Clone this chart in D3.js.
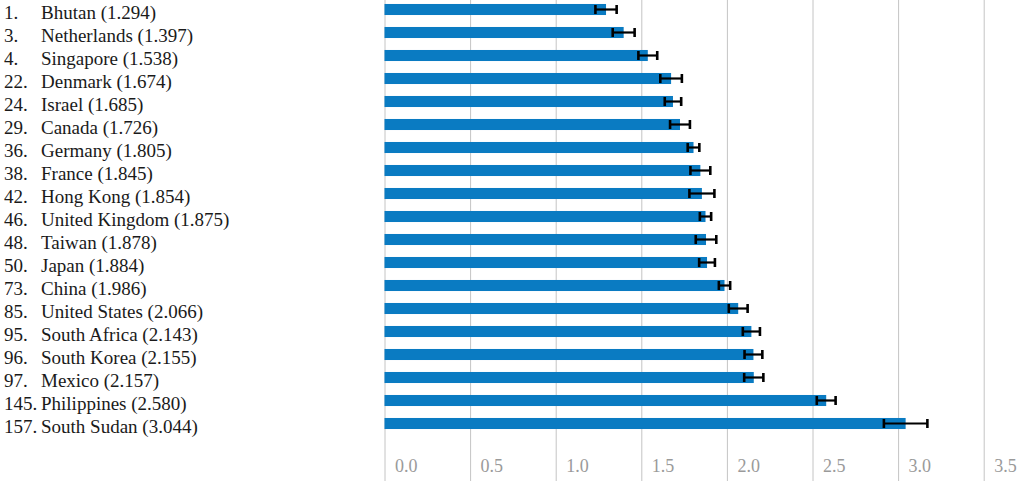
<!DOCTYPE html>
<html>
<head>
<meta charset="utf-8">
<script src="https://cdn.jsdelivr.net/npm/d3@7"></script>
<style>
  html, body { margin: 0; padding: 0; background: #fff; }
  svg { display: block; }
  text { font-family: "Liberation Serif", "DejaVu Serif", serif; }
</style>
</head>
<body>
<svg id="chart" width="1024" height="483"></svg>
<script>
const ranks = [1, 3, 4, 22, 24, 29, 36, 38, 42, 46, 48, 50, 73, 85, 95, 96, 97, 145, 157];
const countries = ["Bhutan", "Netherlands", "Singapore", "Denmark", "Israel", "Canada", "Germany",
  "France", "Hong Kong", "United Kingdom", "Taiwan", "Japan", "China", "United States",
  "South Africa", "South Korea", "Mexico", "Philippines", "South Sudan"];
const scores = [1.294, 1.397, 1.538, 1.674, 1.685, 1.726, 1.805, 1.845, 1.854, 1.875, 1.878,
  1.884, 1.986, 2.066, 2.143, 2.155, 2.157, 2.580, 3.044];
// half-width of error bars
const errors = [0.062, 0.064, 0.055, 0.063, 0.048, 0.058, 0.034, 0.058, 0.073, 0.033, 0.060,
  0.046, 0.033, 0.055, 0.050, 0.052, 0.056, 0.055, 0.127];
const tickValues = [0, 0.5, 1.0, 1.5, 2.0, 2.5, 3.0, 3.5];

const svg = d3.select("#chart");

const x = d3.scaleLinear().domain([0, 3.5]).range([384.5, 983.7]);
const y = d3.scaleBand().domain(countries).range([-2, 435]).paddingInner(0.52).paddingOuter(0.26);

// grid + tick labels via axis
const axis = d3.axisBottom(x)
  .tickValues(tickValues)
  .tickFormat(d3.format(".1f"))
  .tickSizeInner(-481)
  .tickSizeOuter(0);

const gAxis = svg.append("g").attr("transform", `translate(0,481)`).call(axis)
  .attr("font-family", "Liberation Serif, serif")
  .attr("font-size", 18);
gAxis.select(".domain").remove();
gAxis.selectAll(".tick line").attr("stroke", "#c4c4c4").attr("stroke-width", 1);
gAxis.selectAll(".tick text")
  .attr("x", 10).attr("y", -9).attr("dy", null)
  .attr("text-anchor", "start")
  .attr("fill", "#9a9a9a")
  .style("font-size", "18px")
  .style("font-family", "'Liberation Serif', serif");

const data = countries.map((c, i) => ({ c, rank: ranks[i], score: scores[i], err: errors[i] }));

// bars
svg.append("g").selectAll("rect").data(data).join("rect")
  .attr("x", x(0))
  .attr("y", d => y(d.c))
  .attr("width", d => x(d.score) - x(0))
  .attr("height", y.bandwidth())
  .attr("fill", "#0a7bc2");

// error bars
const eg = svg.append("g").attr("stroke", "#000").attr("stroke-width", 2.2);
data.forEach(d => {
  const cy = y(d.c) + y.bandwidth() / 2;
  const x0 = x(d.score - d.err), x1 = x(d.score + d.err);
  eg.append("line").attr("x1", x0).attr("x2", x1).attr("y1", cy).attr("y2", cy);
  eg.append("line").attr("x1", x0).attr("x2", x0).attr("y1", cy - 4.5).attr("y2", cy + 4.5).attr("stroke-width", 2.6);
  eg.append("line").attr("x1", x1).attr("x2", x1).attr("y1", cy - 4.5).attr("y2", cy + 4.5).attr("stroke-width", 2.6);
});

// labels
const lg = svg.append("g").attr("fill", "#1a1a1a").style("font-size", "19px");
lg.selectAll("text.rank").data(data).join("text")
  .attr("class", "rank")
  .attr("x", 4)
  .attr("y", d => y(d.c) + y.bandwidth() / 2 + 9)
  .text(d => d.rank + ".");
lg.selectAll("text.name").data(data).join("text")
  .attr("class", "name")
  .attr("x", 41)
  .attr("y", d => y(d.c) + y.bandwidth() / 2 + 9)
  .text(d => `${d.c} (${d.score.toFixed(3)})`);
</script>
</body>
</html>
